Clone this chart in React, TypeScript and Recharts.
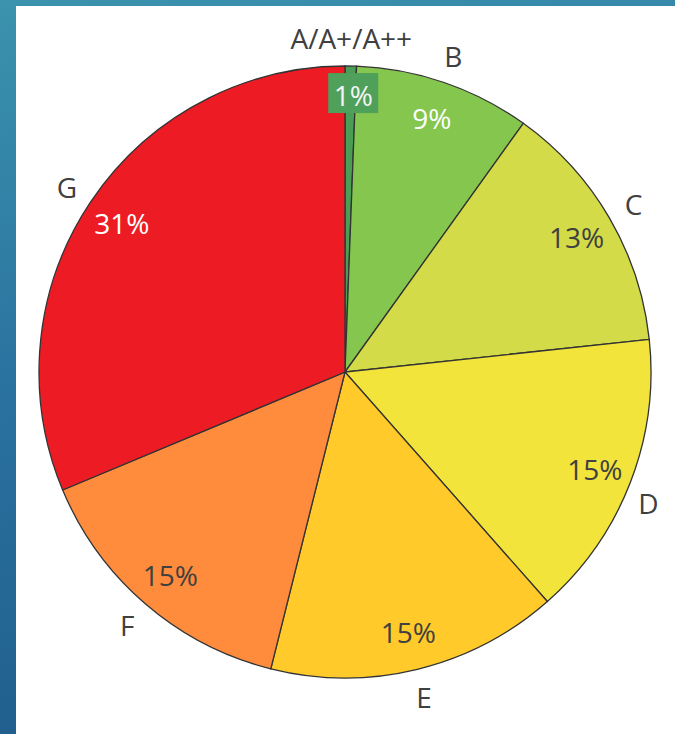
import { PieChart, Pie, Cell } from 'recharts';

const grades = ['A/A+/A++', 'B', 'C', 'D', 'E', 'F', 'G'];
const shares = [0.6, 9.3, 13.4, 15.2, 15.4, 14.8, 31.3];
const colors = ['#4a9e55', '#84c64e', '#d3dc48', '#f2e43b', '#ffca2a', '#ff8b3d', '#ed1c24'];
const pctColors = ['#f4f4f4', '#ffffff', '#404040', '#404040', '#404040', '#404040', '#ffffff'];

const data = grades.map((g, i) => ({ name: g, value: shares[i] }));

const RADIAN = Math.PI / 180;
const FONT = '"Open Sans", sans-serif';

const renderLabel = (props: any) => {
  const { cx, cy, midAngle, index, percent } = props;
  const inner = index === 0 ? 277 : 268;
  const outer = 334;
  const cos = Math.cos(-midAngle * RADIAN);
  const sin = Math.sin(-midAngle * RADIAN);
  const px = cx + inner * cos;
  const py = cy + inner * sin;
  const nx = cx + outer * cos - (index === 3 ? 8 : 0);
  const ny = cy + outer * sin + (index === 3 ? 10 : 0);
  const pct = Math.max(1, Math.round(percent * 100)) + '%';
  return (
    <g>
      {index === 0 && <rect x={px - 22} y={py - 22} width={50} height={40} fill="#4ea05a" />}
      <text x={index === 0 ? px + 3 : px} y={py} fill={pctColors[index]} textAnchor="middle"
        dominantBaseline="central" fontSize={28} fontFamily={FONT}>
        {pct}
      </text>
      <text x={nx} y={ny} fill="#404040" textAnchor="middle" dominantBaseline="central"
        fontSize={28} fontFamily={FONT}>
        {grades[index]}
      </text>
    </g>
  );
};

export default function App() {
  return (
    <div style={{
      position: 'absolute', left: 0, top: 0, width: 675, height: 734,
      background: 'linear-gradient(170deg, #3b93ad 0%, #2a72a0 45%, #1e5a88 100%)',
    }}>
      <div style={{ position: 'absolute', left: 16, top: 6, width: 659, height: 728, background: '#ffffff' }}>
        <PieChart width={659} height={728} margin={{ top: 0, right: 0, bottom: 0, left: 0 }}>
          <Pie
            data={data}
            dataKey="value"
            nameKey="name"
            cx={329}
            cy={366}
            outerRadius={306}
            startAngle={90}
            endAngle={-270}
            stroke="#333333"
            strokeWidth={1.3}
            label={renderLabel}
            labelLine={false}
            isAnimationActive={false}
          >
            {data.map((d, i) => (
              <Cell key={d.name} fill={colors[i]} />
            ))}
          </Pie>
        </PieChart>
      </div>
    </div>
  );
}
